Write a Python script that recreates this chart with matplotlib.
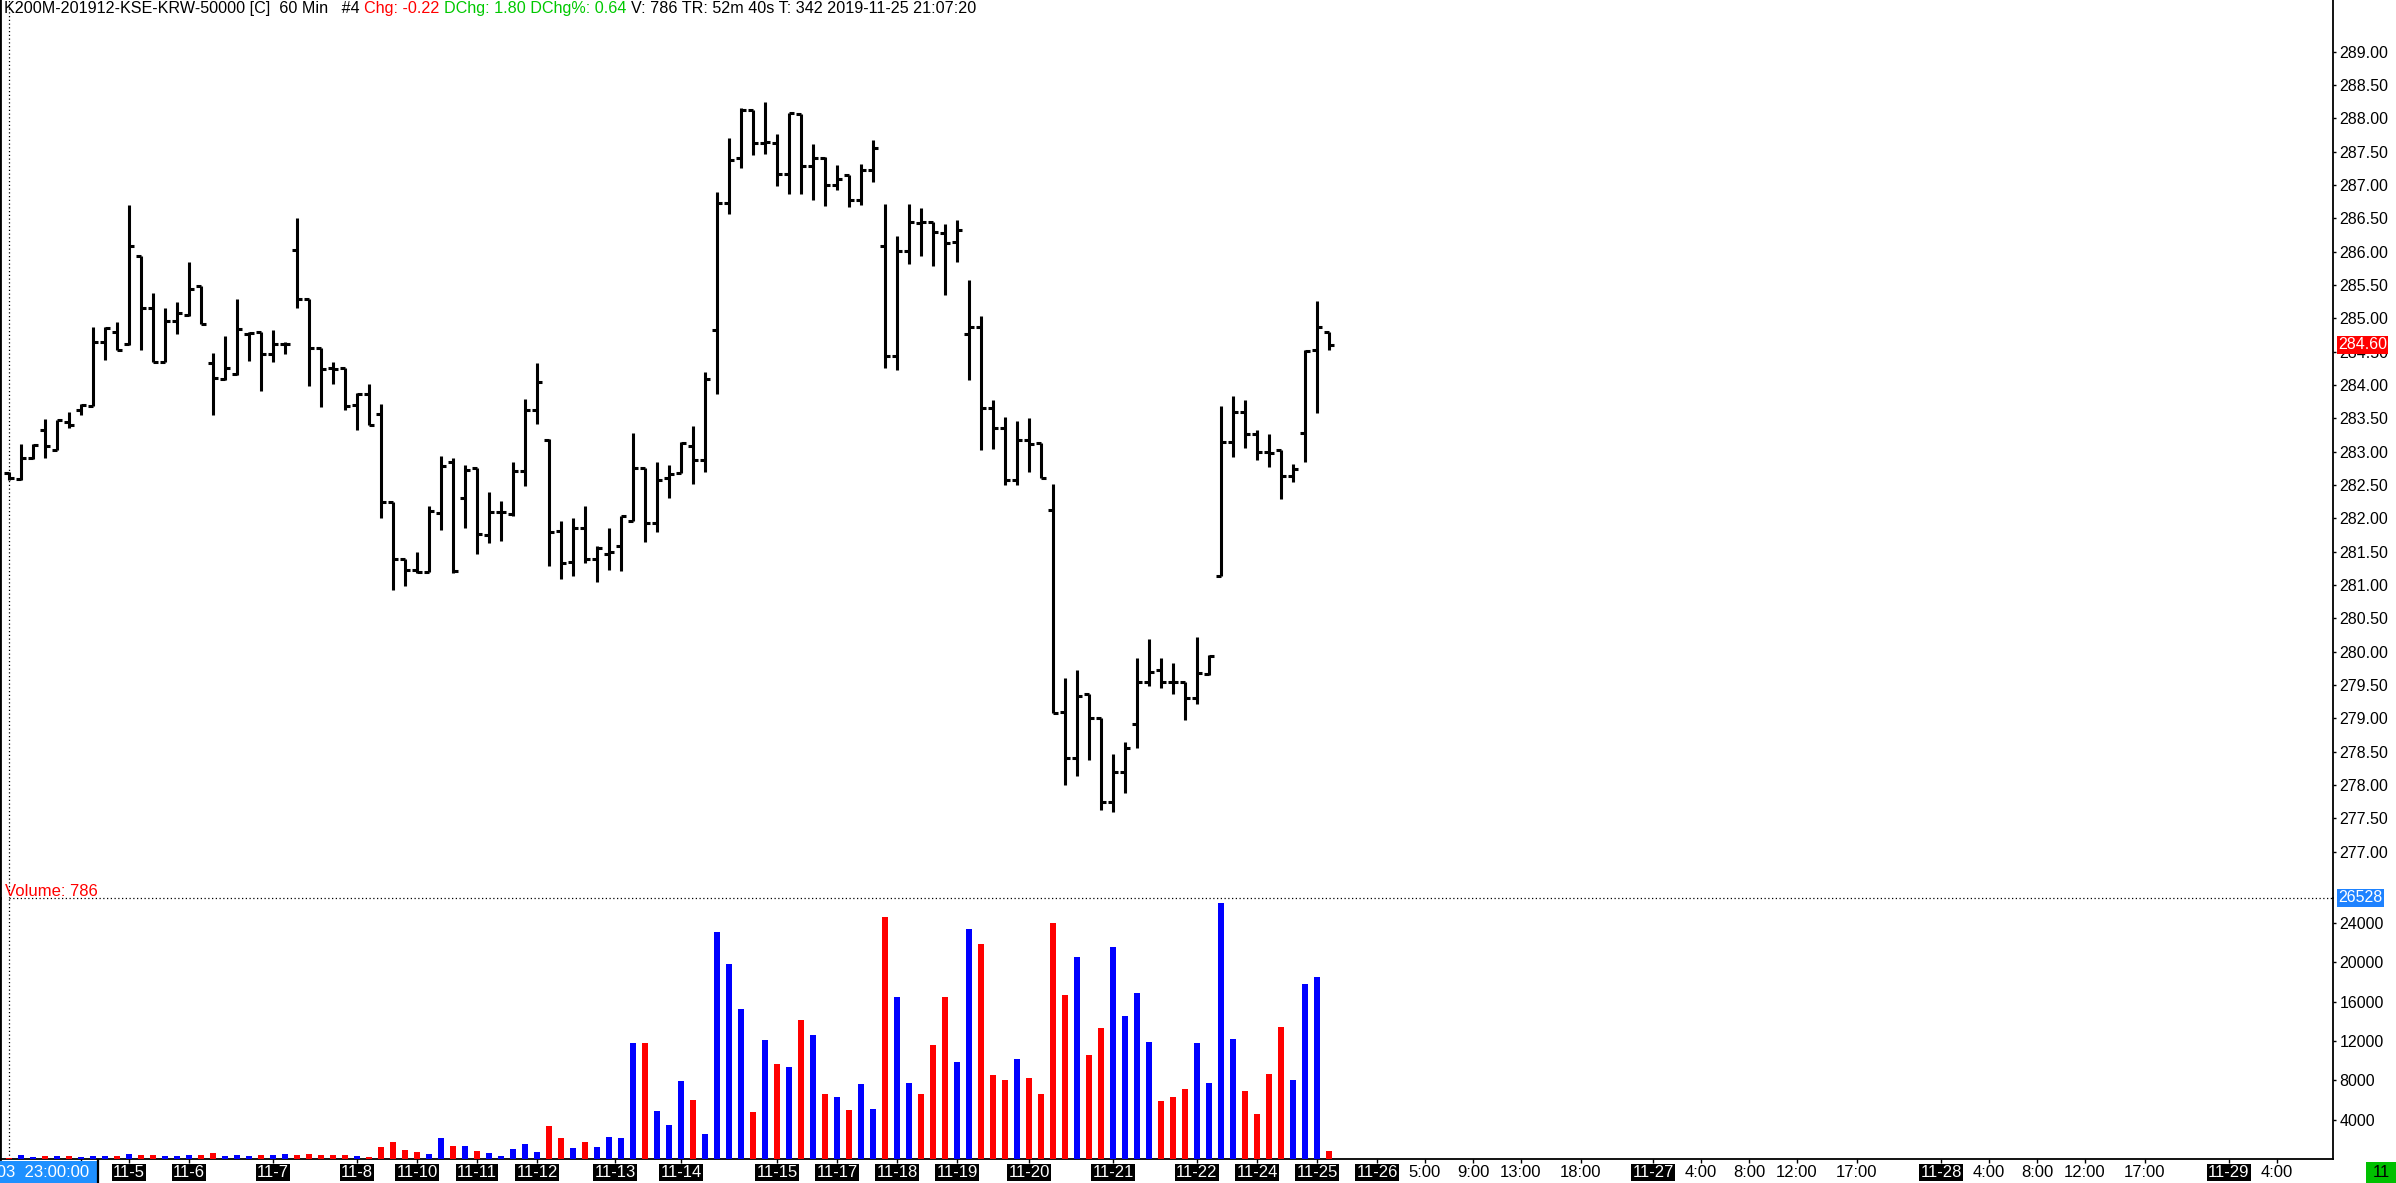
import matplotlib
matplotlib.use("Agg")
import numpy as np
import matplotlib.pyplot as plt
import matplotlib.transforms as mtransforms
from matplotlib import font_manager
from matplotlib.offsetbox import TextArea, HPacker, AnchoredOffsetbox
from matplotlib.patches import Rectangle
from matplotlib.lines import Line2D

plt.rcParams['font.family'] = ['Liberation Sans', 'DejaVu Sans']

# ---------------- data (60-min OHLC bars) ----------------
opens = [282.68, 282.59, 282.90, 283.33, 283.02, 283.45, 283.63, 283.69, 284.65, 284.80,
         284.61, 285.94, 285.16, 284.35, 284.96, 285.05, 285.48, 284.33, 284.09, 284.16,
         284.77, 284.79, 284.46, 284.61, 286.03, 285.29, 284.55, 284.25, 284.25, 283.70,
         283.87, 283.57, 282.25, 281.39, 281.22, 281.20, 282.08, 282.85, 282.30, 282.75,
         281.75, 282.10, 282.06, 282.71, 283.63, 283.18, 281.81, 281.34, 281.85, 281.39,
         281.46, 281.58, 281.96, 282.75, 281.93, 282.61, 282.68, 283.08, 282.88, 284.83,
         286.73, 287.40, 288.12, 287.63, 287.63, 287.16, 288.06, 287.28, 287.41, 287.00,
         287.15, 286.78, 287.22, 286.08, 284.43, 286.01, 286.43, 286.45, 286.28, 286.14,
         284.77, 284.87, 283.66, 283.36, 282.57, 283.17, 283.13, 282.13, 279.09, 278.41,
         279.36, 279.01, 277.74, 278.19, 278.91, 279.55, 279.72, 279.55, 279.55, 279.31,
         279.67, 281.13, 283.14, 283.59, 283.26, 282.99, 283.03, 282.64, 283.28, 284.52,
         284.80]
highs = [282.70, 283.11, 283.12, 283.49, 283.48, 283.60, 283.71, 284.87, 284.87, 284.94,
         286.70, 285.94, 285.38, 285.15, 285.25, 285.84, 285.48, 284.48, 284.73, 285.29,
         284.79, 284.79, 284.83, 284.65, 286.50, 285.29, 284.56, 284.34, 284.25, 283.88,
         284.01, 283.71, 282.25, 281.39, 281.49, 282.19, 282.93, 282.91, 282.80, 282.76,
         282.39, 282.26, 282.85, 283.79, 284.33, 283.19, 281.96, 282.00, 282.18, 281.59,
         281.86, 282.04, 283.28, 282.75, 282.84, 282.80, 283.14, 283.38, 284.19, 286.90,
         287.70, 288.15, 288.13, 288.25, 287.77, 288.08, 288.06, 287.61, 287.42, 287.30,
         287.15, 287.31, 287.68, 286.71, 286.23, 286.71, 286.65, 286.45, 286.41, 286.47,
         285.58, 285.03, 283.77, 283.52, 283.46, 283.51, 283.13, 282.52, 279.60, 279.72,
         279.36, 279.01, 278.47, 278.64, 279.90, 280.19, 279.90, 279.83, 279.55, 280.22,
         279.95, 283.68, 283.84, 283.77, 283.32, 283.26, 283.03, 282.81, 284.52, 285.26,
         284.80]
lows = [282.58, 282.58, 282.89, 282.91, 283.02, 283.35, 283.55, 283.68, 284.38, 284.52,
        284.60, 284.53, 284.34, 284.34, 284.77, 285.04, 284.92, 283.55, 284.08, 284.15,
        284.36, 283.91, 284.35, 284.46, 285.16, 283.98, 283.67, 284.01, 283.63, 283.33,
        283.40, 282.01, 280.93, 280.98, 281.18, 281.19, 281.83, 281.18, 281.86, 281.46,
        281.63, 281.66, 282.04, 282.49, 283.41, 281.28, 281.09, 281.14, 281.33, 281.04,
        281.23, 281.21, 281.96, 281.64, 281.79, 282.30, 282.68, 282.51, 282.70, 283.86,
        286.57, 287.26, 287.45, 287.46, 286.98, 286.87, 286.87, 286.78, 286.68, 286.92,
        286.67, 286.70, 287.05, 284.25, 284.23, 285.81, 285.93, 285.78, 285.35, 285.85,
        284.08, 283.03, 283.04, 282.50, 282.50, 282.69, 282.60, 279.08, 278.00, 278.14,
        278.37, 277.63, 277.60, 277.88, 278.55, 279.48, 279.46, 279.36, 278.98, 279.22,
        279.65, 281.13, 282.92, 283.06, 282.87, 282.77, 282.29, 282.54, 282.85, 283.58,
        284.53]
closes = [282.60, 282.91, 283.10, 283.09, 283.47, 283.40, 283.70, 284.65, 284.85, 284.52,
          286.09, 285.16, 284.34, 284.96, 285.08, 285.44, 284.92, 284.10, 284.25, 284.84,
          284.78, 284.46, 284.61, 284.62, 285.29, 284.55, 284.24, 284.24, 283.68, 283.87,
          283.40, 282.25, 281.39, 281.22, 281.20, 282.11, 282.78, 281.21, 282.73, 281.76,
          282.09, 282.10, 282.71, 283.63, 284.04, 281.79, 281.33, 281.85, 281.39, 281.55,
          281.49, 282.04, 282.76, 281.93, 282.58, 282.66, 283.13, 282.88, 284.09, 286.73,
          287.38, 288.13, 287.63, 287.64, 287.16, 288.08, 287.28, 287.41, 287.00, 287.09,
          286.78, 287.22, 287.55, 284.43, 286.01, 286.45, 286.44, 286.30, 286.13, 286.32,
          284.87, 283.66, 283.36, 282.57, 283.17, 283.11, 282.60, 279.08, 278.41, 279.33,
          279.00, 277.75, 278.19, 278.55, 279.55, 279.70, 279.55, 279.54, 279.31, 279.68,
          279.93, 283.14, 283.59, 283.26, 282.99, 282.98, 282.64, 282.74, 284.51, 284.87,
          284.60]
volumes = [140, 400, 200, 300, 300, 300, 200, 300, 300, 300,
           500, 400, 400, 300, 300, 400, 400, 600, 300, 400,
           300, 400, 400, 500, 400, 500, 400, 400, 400, 300,
           200, 1220, 1730, 920, 710, 510, 2140, 1320, 1320, 810,
           610, 300, 1020, 1530, 710, 3360, 2140, 1120, 1730, 1220,
           2240, 2140, 11800, 11800, 4880, 3460, 7940, 6000, 2540, 23100,
           19840, 15260, 4780, 12110, 9670, 9360, 14140, 12620, 6610, 6310,
           4990, 7630, 5090, 24630, 16490, 7730, 6610, 11600, 16490, 9870,
           23400, 21880, 8550, 8040, 10180, 8240, 6610, 24020, 16690, 20560,
           10580, 13330, 21570, 14550, 16890, 11910, 5900, 6310, 7120, 11800,
           7730, 26050, 12210, 6920, 4580, 8650, 13430, 8040, 17810, 18520, 786]
# B = up bar (blue volume), R = down bar (red volume)
vol_dir = ("RBBRBRBBBR" "BRRBBBRRBB" "BRBBRRRRRB" "RRRRRBBRBR" "BBBBBRRBRB"
           "BBBRBBBRBB" "BBRBRBRBRB" "RBBRBBRRRB" "BRRRBRRRRB" "RRBBBBRRRB"
           "BBBRRRRBBBR")
vol_max_label = 26528
last_price = 284.60
last_volume = 786

price_ticks = np.arange(277.0, 289.01, 0.5)
vol_ticks = [4000, 8000, 12000, 16000, 20000, 24000]

date_ticks = [10, 15, 22, 29, 34, 39, 44, 50.5, 56, 64, 69, 74, 79, 85, 92, 99, 104, 109,
              114, 137, 161, 185]
date_labels = ["11-5", "11-6", "11-7", "11-8", "11-10", "11-11", "11-12", "11-13", "11-14",
               "11-15", "11-17", "11-18", "11-19", "11-20", "11-21", "11-22", "11-24",
               "11-25", "11-26", "11-27", "11-28", "11-29"]
hour_ticks = [118, 122, 126, 131, 141, 145, 149, 154, 165, 169, 173, 178, 189]
hour_labels = ["5:00", "9:00", "13:00", "18:00", "4:00", "8:00", "12:00", "17:00",
               "4:00", "8:00", "12:00", "17:00", "4:00"]
cursor_tick = 6
cursor_label = "11-03  23:00:00"

header_parts = [("K200M-201912-KSE-KRW-50000 [C]  60 Min   #4 ", "black"),
                ("Chg: -0.22 ", "#FF0000"),
                ("DChg: 1.80 DChg%: 0.64 ", "#00C800"),
                ("V: 786 TR: 52m 40s T: 342 2019-11-25 21:07:20", "black")]

# header font: narrow face if present, otherwise regular face scaled to same width
try:
    font_manager.findfont(font_manager.FontProperties(family="Liberation Sans Narrow"),
                          fallback_to_default=False)
    header_family, header_size = ["Liberation Sans Narrow", "DejaVu Sans"], 14
except Exception:
    header_family, header_size = ["Liberation Sans", "DejaVu Sans"], 11.6

# ---------------- layout ----------------
W, H = 2396, 1183
fig = plt.figure(figsize=(W / 100, H / 100), dpi=100)
fig.patch.set_facecolor("white")


def rect(x0, y0, x1, y1):
    return [x0 / W, 1 - y1 / H, (x1 - x0) / W, (y1 - y0) / H]


AX_RIGHT = 2333
ax = fig.add_axes(rect(0, 0, AX_RIGHT, 898))
axv = fig.add_axes(rect(0, 898, AX_RIGHT, 1159), sharex=ax)

x = np.arange(len(closes))
xlim = (-0.75, 193.67)
ax.set_xlim(xlim)
ax.set_ylim(276.303, 289.7725)
axv.set_ylim(0, vol_max_label)

# OHLC bars
lw_bar = 2.2
ax.vlines(x, lows, highs, color="black", lw=lw_bar, capstyle="butt", zorder=3)
ax.hlines(opens, x - 0.4, x, color="black", lw=lw_bar, capstyle="butt", zorder=3)
ax.hlines(closes, x, x + 0.4, color="black", lw=lw_bar, capstyle="butt", zorder=3)

# volume bars
vcolors = ["#0000FF" if d == "B" else "#FF0000" for d in vol_dir]
axv.bar(x, volumes, width=0.55, color=vcolors, linewidth=0, zorder=3)

# spines
for a in (ax, axv):
    for s in a.spines.values():
        s.set_visible(False)
    a.spines["right"].set_visible(True)
    a.spines["right"].set_linewidth(1.3)
    a.spines["left"].set_visible(True)
    a.spines["left"].set_linewidth(2.0)
    a.set_facecolor("none")
axv.spines["bottom"].set_visible(True)
axv.spines["bottom"].set_linewidth(1.3)

# price axis
ax.yaxis.tick_right()
ax.set_yticks(price_ticks)
ax.set_yticklabels([f"{v:.2f}" for v in price_ticks])
ax.tick_params(axis="y", direction="out", length=2.2, width=1, pad=2.5, labelsize=11.5)
ax.tick_params(axis="x", bottom=False, labelbottom=False, top=False)

# volume axis
axv.yaxis.tick_right()
axv.set_yticks(vol_ticks)
axv.set_yticklabels([str(v) for v in vol_ticks])
axv.tick_params(axis="y", direction="out", length=2.2, width=1, pad=2.5, labelsize=11.5)
axv.set_xticks([cursor_tick] + date_ticks + hour_ticks)
axv.set_xticklabels([])
axv.tick_params(axis="x", direction="out", length=3, width=1)

# dotted cursor lines
ax.axvline(0, color="black", lw=0.9, ls=(0, (1, 2)), zorder=1)
axv.axvline(0, color="black", lw=0.9, ls=(0, (1, 2)), zorder=1)
axv.hlines(vol_max_label, 0, xlim[1], color="black", lw=0.9, ls=(0, (1, 2)),
           clip_on=False, zorder=1)

# x labels
tx = mtransforms.blended_transform_factory(axv.transData, fig.transFigure)
ylab = 1 - 1172.5 / H
for t, lab in zip(date_ticks, date_labels):
    axv.text(t, ylab, lab, transform=tx, ha="center", va="center", fontsize=12,
             color="white", clip_on=False,
             bbox=dict(boxstyle="square,pad=0.08", fc="black", ec="none"))
for t, lab in zip(hour_ticks, hour_labels):
    axv.text(t, ylab, lab, transform=tx, ha="center", va="center", fontsize=12,
             color="black", clip_on=False)

# cursor time box (bottom-left)
fig.add_artist(Rectangle((0, 1 - 1183 / H), 97 / W, 22 / H, transform=fig.transFigure,
                         fc="#1E90FF", ec="none", zorder=5))
fig.add_artist(Line2D([98 / W, 98 / W], [1 - 1183 / H, 1 - 1160 / H], transform=fig.transFigure,
                      color="black", lw=1.6, zorder=6))
fig.text(89 / W, ylab, cursor_label, ha="right", va="center", fontsize=12, color="white",
         zorder=6)

# green box bottom-right
fig.add_artist(Rectangle((2366 / W, 0), 30 / W, 21 / H, transform=fig.transFigure,
                         fc="#00C000", ec="none", zorder=5))
fig.text(2381 / W, ylab, "11", ha="center", va="center", fontsize=12, color="black", zorder=6)

# last price / volume max tags
tp = mtransforms.blended_transform_factory(fig.transFigure, ax.transData)
ax.text(2338 / W, last_price, f"{last_price:.2f}", transform=tp, ha="left", va="center",
        fontsize=11.5, color="white", zorder=10, clip_on=False,
        bbox=dict(boxstyle="square,pad=0.08", fc="#FF0000", ec="none"))
tv = mtransforms.blended_transform_factory(fig.transFigure, axv.transData)
axv.text(2338 / W, vol_max_label, f"{vol_max_label}", transform=tv, ha="left", va="center",
         fontsize=11.5, color="white", zorder=10, clip_on=False,
         bbox=dict(boxstyle="square,pad=0.08", fc="#1E82FF", ec="none"))

# volume caption
fig.text(5 / W, 1 - 896 / H, f"Volume: {last_volume}", ha="left", va="baseline",
         fontsize=12, color="#FF0000")

# header
areas = [TextArea(t, textprops=dict(color=c, fontsize=header_size, family=header_family))
         for t, c in header_parts]
hbox = HPacker(children=areas, align="baseline", pad=0, sep=0)
anch = AnchoredOffsetbox(loc="upper left", child=hbox, pad=0, borderpad=0, frameon=False,
                         bbox_to_anchor=(4 / W, 1 - 1 / H), bbox_transform=fig.transFigure)
fig.add_artist(anch)

fig.savefig("out.png", dpi=100, facecolor="white")
